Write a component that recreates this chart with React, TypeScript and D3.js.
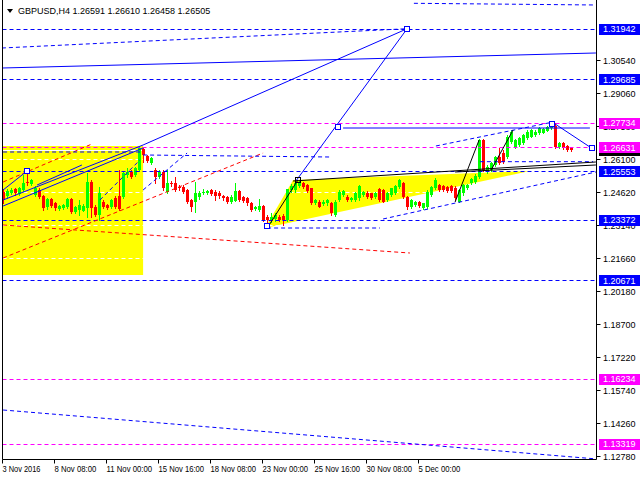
import React from 'react';
import * as d3 from 'd3';

const W = 640;
const H = 480;

// H4 candles, 3 Nov 2016 .. 7 Dec 2016
const open = [
1.2462,1.2444,1.2457,1.2475,1.2453,1.2471,1.2507,1.2498,1.2449,1.2471,
1.2444,1.2395,1.2431,1.2413,1.2386,1.2390,1.2395,1.2431,1.2372,1.2381,
1.2377,1.2390,1.2507,1.2395,1.2359,1.2417,1.2404,1.2395,1.2435,1.2444,
1.2440,1.2538,1.2552,1.2538,1.2561,1.2655,1.2623,1.2592,1.2561,1.2529,
1.2552,1.2462,1.2502,1.2502,1.2484,1.2484,1.2471,1.2426,1.2417,1.2440,
1.2457,1.2457,1.2471,1.2462,1.2457,1.2444,1.2440,1.2417,1.2422,1.2466,
1.2440,1.2435,1.2413,1.2386,1.2381,1.2399,1.2350,1.2336,1.2341,1.2350,
1.2354,1.2336,1.2471,1.2471,1.2489,1.2502,1.2493,1.2480,1.2413,1.2417,
1.2408,1.2413,1.2413,1.2359,1.2426,1.2449,1.2440,1.2426,1.2426,1.2435,
1.2449,1.2457,1.2457,1.2440,1.2475,1.2471,1.2426,1.2449,1.2457,1.2484,
1.2502,1.2440,1.2395,1.2404,1.2417,1.2390,1.2395,1.2449,1.2480,1.2493,
1.2489,1.2484,1.2489,1.2480,1.2417,1.2457,1.2480,1.2502,1.2507,1.2529,
1.2695,1.2552,1.2561,1.2583,1.2619,1.2637,1.2619,1.2686,1.2664,1.2673,
1.2682,1.2704,1.2709,1.2718,1.2727,1.2727,1.2736,1.2749,1.2758,1.2664,
1.2682,1.2668,1.26591,
];
const high = [
1.2475,1.2475,1.2480,1.2480,1.2484,1.2538,1.2556,1.2520,1.2489,1.2480,
1.2449,1.2435,1.2435,1.2417,1.2404,1.2408,1.2435,1.2435,1.2399,1.2426,
1.2408,1.2547,1.2516,1.2404,1.2484,1.2426,1.2408,1.2431,1.2444,1.2561,
1.2552,1.2570,1.2561,1.2574,1.2664,1.2659,1.2628,1.2619,1.2570,1.2561,
1.2561,1.2561,1.2511,1.2529,1.2493,1.2493,1.2475,1.2431,1.2507,1.2466,
1.2475,1.2471,1.2475,1.2471,1.2466,1.2449,1.2444,1.2449,1.2502,1.2471,
1.2444,1.2440,1.2417,1.2399,1.2431,1.2404,1.2359,1.2368,1.2368,1.2359,
1.2363,1.2475,1.2498,1.2507,1.2511,1.2507,1.2498,1.2480,1.2431,1.2426,
1.2426,1.2431,1.2417,1.2426,1.2471,1.2471,1.2449,1.2440,1.2462,1.2493,
1.2466,1.2466,1.2457,1.2462,1.2480,1.2475,1.2462,1.2480,1.2493,1.2520,
1.2507,1.2444,1.2431,1.2422,1.2422,1.2413,1.2471,1.2489,1.2525,1.2498,
1.2493,1.2489,1.2493,1.2489,1.2475,1.2498,1.2498,1.2525,1.2543,1.2700,
1.2700,1.2583,1.2597,1.2623,1.2659,1.2650,1.2718,1.2740,1.2700,1.2709,
1.2722,1.2740,1.2745,1.2740,1.2754,1.2749,1.2758,1.2773,1.2770,1.2686,
1.2686,1.2673,1.26610,
];
const low = [
1.2413,1.2435,1.2453,1.2449,1.2449,1.2466,1.2493,1.2493,1.2444,1.2435,
1.2381,1.2386,1.2395,1.2381,1.2381,1.2386,1.2390,1.2368,1.2368,1.2359,
1.2377,1.2350,1.2350,1.2354,1.2336,1.2390,1.2386,1.2390,1.2390,1.2381,
1.2435,1.2529,1.2525,1.2534,1.2556,1.2597,1.2597,1.2588,1.2502,1.2525,
1.2471,1.2457,1.2489,1.2466,1.2471,1.2457,1.2413,1.2377,1.2372,1.2431,
1.2453,1.2453,1.2449,1.2426,1.2435,1.2426,1.2413,1.2413,1.2422,1.2422,
1.2417,1.2404,1.2377,1.2381,1.2377,1.2332,1.2305,1.2327,1.2332,1.2332,
1.2314,1.2332,1.2462,1.2462,1.2484,1.2480,1.2462,1.2408,1.2408,1.2395,
1.2404,1.2404,1.2359,1.2354,1.2422,1.2444,1.2422,1.2422,1.2422,1.2426,
1.2444,1.2435,1.2431,1.2435,1.2422,1.2417,1.2422,1.2444,1.2453,1.2480,
1.2435,1.2386,1.2390,1.2399,1.2395,1.2386,1.2390,1.2444,1.2475,1.2466,
1.2466,1.2462,1.2462,1.2426,1.2417,1.2449,1.2475,1.2498,1.2502,1.2525,
1.2556,1.2547,1.2556,1.2579,1.2588,1.2592,1.2614,1.2682,1.2659,1.2668,
1.2677,1.2700,1.2709,1.2713,1.2722,1.2727,1.2736,1.2745,1.2659,1.2659,
1.2655,1.2646,1.26458,
];
const close = [
1.2426,1.2466,1.2471,1.2457,1.2480,1.2502,1.2502,1.2516,1.2480,1.2440,
1.2390,1.2431,1.2399,1.2390,1.2399,1.2404,1.2431,1.2372,1.2395,1.2404,
1.2399,1.2507,1.2390,1.2359,1.2457,1.2395,1.2390,1.2426,1.2395,1.2386,
1.2547,1.2552,1.2529,1.2570,1.2659,1.2628,1.2601,1.2614,1.2529,1.2552,
1.2480,1.2502,1.2498,1.2471,1.2480,1.2462,1.2417,1.2395,1.2457,1.2457,
1.2462,1.2466,1.2453,1.2444,1.2444,1.2435,1.2417,1.2440,1.2466,1.2426,
1.2422,1.2413,1.2381,1.2395,1.2399,1.2336,1.2336,1.2350,1.2359,1.2336,
1.2336,1.2475,1.2489,1.2502,1.2502,1.2484,1.2466,1.2413,1.2426,1.2395,
1.2417,1.2426,1.2368,1.2417,1.2462,1.2466,1.2426,1.2435,1.2457,1.2489,
1.2462,1.2440,1.2435,1.2457,1.2426,1.2417,1.2457,1.2480,1.2489,1.2516,
1.2440,1.2395,1.2426,1.2417,1.2399,1.2413,1.2462,1.2484,1.2516,1.2471,
1.2471,1.2466,1.2466,1.2435,1.2471,1.2493,1.2493,1.2520,1.2534,1.2695,
1.2561,1.2574,1.2592,1.2619,1.2592,1.2597,1.2709,1.2731,1.2695,1.2704,
1.2718,1.2731,1.2740,1.2731,1.2749,1.2745,1.2754,1.2771,1.2664,1.2682,
1.2659,1.2650,1.26505,
];

const priceTicks = [1.3054, 1.2906, 1.2758, 1.2610, 1.2462, 1.2314, 1.2166, 1.2018, 1.1870, 1.1722, 1.1574, 1.1426, 1.1278];
const timeLabels = ['3 Nov 2016', '8 Nov 08:00', '11 Nov 00:00', '15 Nov 16:00', '18 Nov 08:00', '23 Nov 00:00', '25 Nov 16:00', '30 Nov 08:00', '5 Dec 00:00'];
const timeLabelBars = [0, 13, 26, 39, 52, 65, 78, 91, 104];

const headerText = 'GBPUSD,H4  1.26591 1.26610 1.26458 1.26505';
const bidPrice = 1.26505;

// horizontal levels [price, colour]
const levelPrices = [1.31942, 1.29685, 1.27734, 1.26631, 1.25553, 1.23372, 1.20671, 1.16234, 1.13319];
const levelColors = ['#0000ff', '#0000ff', '#ff00ff', '#ff00ff', '#0000ff', '#0000ff', '#0000ff', '#ff00ff', '#ff00ff'];

// trend lines [bar1, price1, bar2, price2]
const blueSolidLines = [
  [-0.4, 1.30181, 148.1, 1.30854],
  [34.9, 1.26728, 100.9, 1.31942],
  [73.1, 1.25113, 100.9, 1.31942],
  [84.9, 1.2749, 146.6, 1.2749],
  [137.9, 1.2767, 146.6, 1.26638],
  [-0.1, 1.24261, 34.9, 1.26728],
  [-0.1, 1.23992, 34.9, 1.26593],
  [-0.1, 1.2471, 5.9, 1.25562],
  [8.4, 1.24934, 19.6, 1.25831],
];
const blueDashedLines = [
  [-0.4, 1.31078, 100.9, 1.31942],
  [102.6, 1.33083, 148.1, 1.33007],
  [-0.1, 1.14843, 148.1, 1.1265],
  [-0.1, 1.26414, 34.9, 1.26414],
  [34.9, 1.2628, 81.6, 1.2619],
  [65.9, 1.23005, 94.1, 1.23005],
  [94.9, 1.2341, 148.1, 1.25517],
  [24.1, 1.24261, 34.1, 1.26055],
  [34.9, 1.2471, 45.9, 1.26369],
  [119.1, 1.2598, 147.4, 1.2598],
  [108.1, 1.26683, 137.4, 1.27759],
];
const redDashedLines = [
  [-0.1, 1.2314, 101.6, 1.21884],
  [-0.1, 1.25068, 22.1, 1.26773],
  [-0.1, 1.2166, 64.9, 1.26369],
];
const blackLines = [
  [72.4, 1.25113, 148.1, 1.25966],
  [112.9, 1.25517, 148.1, 1.25831],
  [66.1, 1.2305, 73.6, 1.25158],
  [112.9, 1.24171, 118.9, 1.26952],
  [121.9, 1.25607, 127.4, 1.27401],
];
// yellow rectangle [bar1, price1, bar2, price2]
const yellowRect = [-1, 1.26683, 34.9, 1.20898];
// yellow triangle vertices [bar, price]
const yellowTriangle = [[65.4, 1.23005], [72.4, 1.25158], [131.6, 1.25562]];
// anchor markers [bar, price]
const blueMarkers = [[5.9, 1.25562], [100.9, 1.31942], [83.6, 1.27535], [137.1, 1.2767], [147.1, 1.26593], [65.9, 1.23095]];
const blackMarkers = [[73.6, 1.25158]];

const PL = 2.5, PR = 596.5, PB = 459.5;
const FONT = '"Liberation Sans", Arial, sans-serif';

export default function App() {
  const x = d3.scaleLinear().domain([0, 142]).range([3.5, 571.5]);
  const y = d3.scaleLinear().domain([1.1278, 1.3054]).range([456, 60]);
  const seg = (l: number[], i: number, color: string, dash?: string) => (
    <line key={color + i} x1={x(l[0])} y1={y(l[1])} x2={x(l[2])} y2={y(l[3])}
      stroke={color} strokeWidth={1} strokeDasharray={dash} />
  );
  const triPath = d3.line()(yellowTriangle.map(p => [x(p[0]), y(p[1])] as [number, number])) + 'Z';

  return (
    <svg width={W} height={H} style={{ position: 'fixed', left: 0, top: 0, display: 'block', background: '#fff' }}
      fontFamily={FONT}>
      <defs>
        <clipPath id="plot"><rect x={PL} y={0} width={PR - PL} height={PB} /></clipPath>
      </defs>
      <rect x={0} y={0} width={W} height={H} fill="#fff" />
      <g clipPath="url(#plot)">
        <rect x={x(yellowRect[0])} y={y(yellowRect[1])} width={x(yellowRect[2]) - x(yellowRect[0])}
          height={y(yellowRect[3]) - y(yellowRect[1])} fill="#ffff00" />
        <path d={triPath} fill="#ffff00" />
        {priceTicks.map((p, i) => (
          <line key={'g' + i} x1={PL} x2={PR} y1={Math.round(y(p)) + 0.5} y2={Math.round(y(p)) + 0.5}
            stroke="#fff" strokeDasharray="4,3" />
        ))}
        <line x1={PL} x2={PR} y1={Math.round(y(bidPrice)) + 0.5} y2={Math.round(y(bidPrice)) + 0.5} stroke="#fff" />
        {open.map((o, i) => {
          const c = close[i];
          const up = c >= o;
          const col = up ? '#00ff00' : '#ff0000';
          const cx = x(i);
          const top = Math.round(y(Math.max(o, c)));
          const bot = Math.round(y(Math.min(o, c)));
          return (
            <g key={'c' + i}>
              <line x1={cx} x2={cx} y1={Math.round(y(high[i]))} y2={Math.round(y(low[i])) + 1} stroke={col} />
              <rect x={cx - 1.5} y={top} width={3} height={Math.max(1, bot - top)} fill={col} />
            </g>
          );
        })}
        {levelPrices.map((p, i) => (
          <line key={'lv' + i} x1={PL} x2={PR} y1={Math.round(y(p)) + 0.5} y2={Math.round(y(p)) + 0.5}
            stroke={levelColors[i]} strokeDasharray="4,3" />
        ))}
        {redDashedLines.map((l, i) => seg(l, i, '#ff0000', '4,3'))}
        {blueDashedLines.map((l, i) => seg(l, i, '#0000ff', '4,3'))}
        {blueSolidLines.map((l, i) => seg(l, i, '#0000ff'))}
        {blackLines.map((l, i) => seg(l, i, '#000000'))}
        {blueMarkers.map((m, i) => (
          <rect key={'bm' + i} x={Math.round(x(m[0])) - 2.5} y={Math.round(y(m[1])) - 2.5} width={5} height={5}
            fill="#fff" stroke="#0000ff" />
        ))}
        {blackMarkers.map((m, i) => (
          <rect key={'km' + i} x={Math.round(x(m[0])) - 2.5} y={Math.round(y(m[1])) - 2.5} width={5} height={5}
            fill="none" stroke="#000" />
        ))}
      </g>
      {/* frame */}
      <line x1={PL} x2={PL} y1={0} y2={PB} stroke="#000" />
      <line x1={PR} x2={PR} y1={0} y2={PB} stroke="#000" />
      <line x1={PL} x2={PR} y1={PB} y2={PB} stroke="#000" />
      {/* price axis */}
      {priceTicks.map((p, i) => (
        <g key={'pt' + i}>
          <line x1={PR} x2={PR + 4} y1={Math.round(y(p)) + 0.5} y2={Math.round(y(p)) + 0.5} stroke="#000" />
          <text x={603} y={y(p) + 3.5} fontSize={9} fill="#000">{p.toFixed(5)}</text>
        </g>
      ))}
      <rect x={599} y={Math.round(y(bidPrice)) - 5} width={41} height={11} fill="#000" />
      <text x={603} y={y(bidPrice) + 3.5} fontSize={9} fill="#fff">{bidPrice.toFixed(5)}</text>
      {levelPrices.map((p, i) => (
        <g key={'lb' + i}>
          <rect x={599} y={Math.round(y(p)) - 5} width={41} height={11} fill={levelColors[i]} />
          <text x={603} y={y(p) + 3.5} fontSize={9} fill="#fff">{p.toFixed(5)}</text>
        </g>
      ))}
      {/* time axis */}
      {timeLabelBars.map((b, i) => (
        <g key={'tl' + i}>
          <line x1={Math.round(x(b)) - 1.5} x2={Math.round(x(b)) - 1.5} y1={PB} y2={PB + 4} stroke="#000" />
          <text x={x(b) - 1} y={472} fontSize={9.5} fill="#000"
            textLength={timeLabels[i].length * 3.8} lengthAdjust="spacingAndGlyphs">{timeLabels[i]}</text>
        </g>
      ))}
      {/* header */}
      <path d="M7,9 L13,9 L10,13 Z" fill="#000" />
      <text x={18} y={14} fontSize={9} fill="#000">{headerText}</text>
    </svg>
  );
}
